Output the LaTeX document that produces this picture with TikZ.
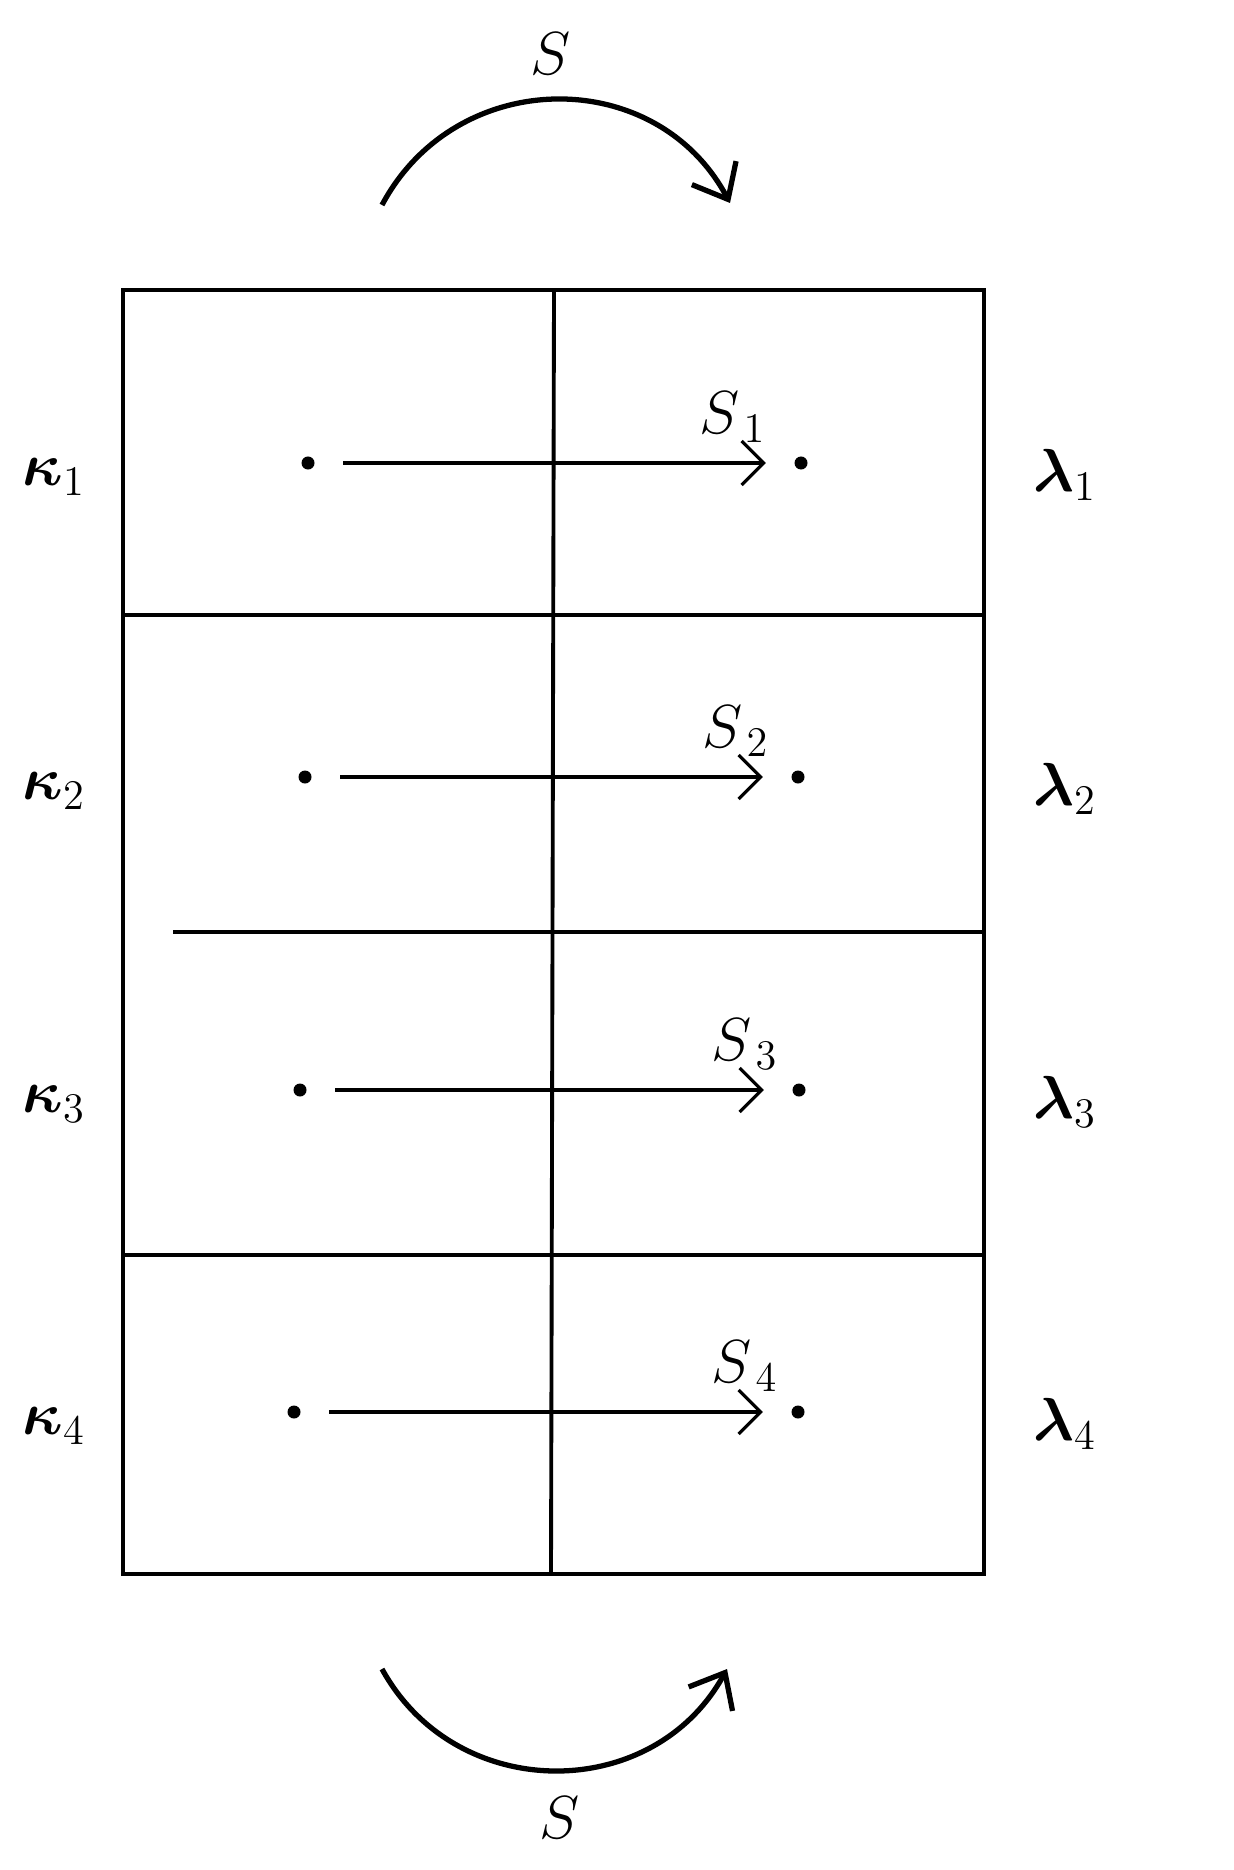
\documentclass[tikz,border=0pt]{standalone}
\usepackage{amsmath}
\usepackage{bm}
\usetikzlibrary{arrows.meta}

\begin{document}
\begin{tikzpicture}[
    x=0.01cm, y=-0.01cm,
    gridline/.style={line width=1.1pt},
    dot/.style={circle, fill=black, inner sep=0pt, minimum size=0.13cm},
    lbl/.style={font=\fontsize{17}{20}\selectfont, inner sep=0pt},
    map/.style={-{Straight Barb[length=2.2mm,width=4.4mm]}, line width=0.9pt, shorten <=0.28cm, shorten >=0.28cm},
    bigmap/.style={-{Straight Barb[length=3mm,width=5mm]}, line width=1.5pt}
]

% Page frame
\useasboundingbox (0,0) rectangle (1234,1870);

% Outer box and dividing lines
\draw[gridline] (123,290) rectangle (984,1574);
\draw[gridline] (554,290) -- (551,1574);
\draw[gridline] (123,615) -- (984,615);
\draw[gridline] (173,932) -- (984,932);
\draw[gridline] (123,1255) -- (984,1255);

% Rows: kappa_i -> lambda_i
\foreach \i/\y/\xa/\xb/\sx in {1/463/308/801/733, 2/777/305/798/736, 3/1090/300/799/745, 4/1412/294/798/745} {
    \node[dot] (k\i) at (\xa,\y) {};
    \node[dot] (l\i) at (\xb,\y) {};
    \draw[map] (k\i) -- (l\i);
    \node[lbl] (s\i) at (\sx,\y-46) {$S_{\,\i}$};
    \node[lbl] (kap\i) at (54,\y+14) {$\bm{\kappa}_{\i}$};
    \node[lbl] (lam\i) at (1065,\y+12) {$\bm{\lambda}_{\i}$};
}

% Top map S
\coordinate (topL) at (382,205);
\coordinate (topR) at (730,203);
\draw[bigmap] (topL) .. controls +(74,-139) and +(-74,-139) .. (topR);
\node[lbl] (stop) at (551,54) {$S$};

% Bottom map S
\coordinate (botL) at (382,1669);
\coordinate (botR) at (727,1669);
\draw[bigmap] (botL) .. controls +(74,135) and +(-74,135) .. (botR);
\node[lbl] (sbot) at (560,1818) {$S$};

\end{tikzpicture}
\end{document}
